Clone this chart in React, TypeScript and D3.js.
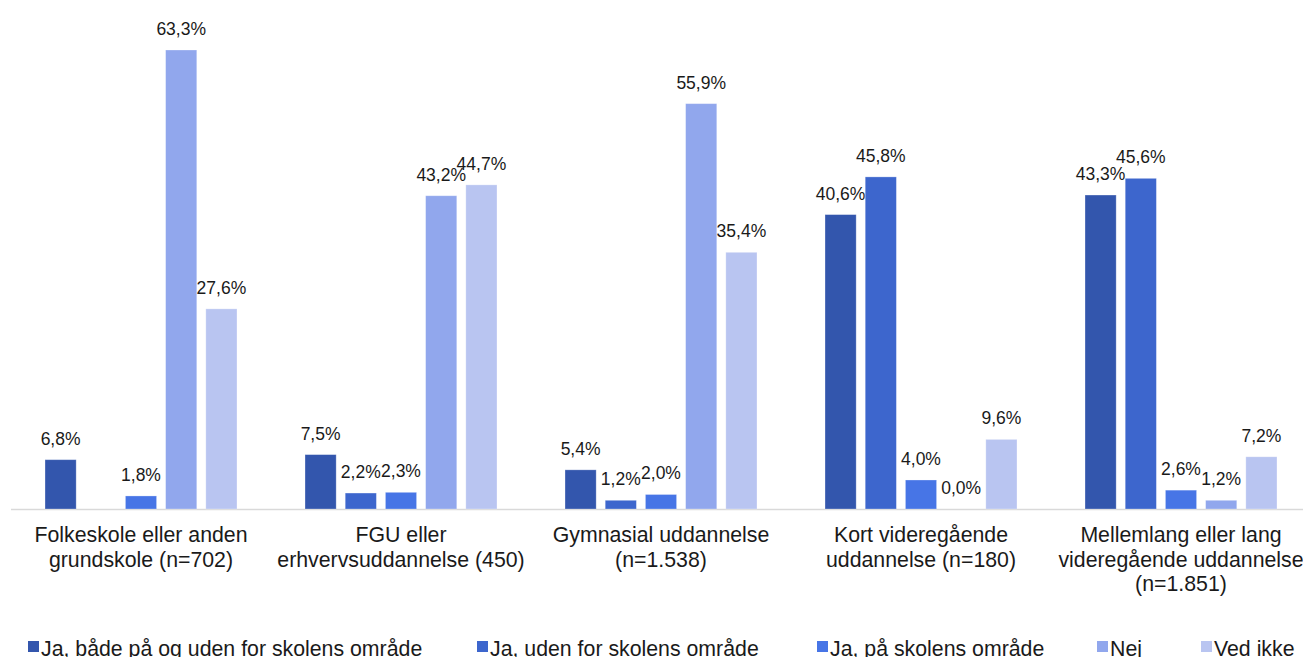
import React from "react";
import * as d3 from "d3";

const categories: string[][] = [
  ["Folkeskole eller anden", "grundskole (n=702)"],
  ["FGU eller", "erhvervsuddannelse (450)"],
  ["Gymnasial uddannelse", "(n=1.538)"],
  ["Kort videregående", "uddannelse (n=180)"],
  ["Mellemlang eller lang", "videregående uddannelse", "(n=1.851)"],
];

const seriesNames = [
  "Ja, både på og uden for skolens område",
  "Ja, uden for skolens område",
  "Ja, på skolens område",
  "Nej",
  "Ved ikke",
];

const seriesColors = ["#3356AD", "#3D66CD", "#4775E6", "#91A7ED", "#B9C5F1"];

// values per series, one per category (null = no bar)
const jaBegge: (number | null)[] = [6.8, 7.5, 5.4, 40.6, 43.3];
const jaUden: (number | null)[] = [null, 2.2, 1.2, 45.8, 45.6];
const jaPaa: (number | null)[] = [1.8, 2.3, 2.0, 4.0, 2.6];
const nej: (number | null)[] = [63.3, 43.2, 55.9, 0.0, 1.2];
const vedIkke: (number | null)[] = [27.6, 44.7, 35.4, 9.6, 7.2];

const seriesValues = [jaBegge, jaUden, jaPaa, nej, vedIkke];

const W = 1303;
const H = 657;
const FONT = "Liberation Sans, Arial, sans-serif";
const FS_LABEL = 17.5;
const FS_TEXT = 21.3;

export default function App() {
  const x0 = 11;
  const x1 = 1311;
  const baseline = 509;
  const yTop = 50;
  const x = d3
    .scaleBand<number>()
    .domain(d3.range(categories.length))
    .range([x0, x1])
    .paddingInner(0)
    .paddingOuter(0);
  const xs = d3
    .scaleBand<number>()
    .domain(d3.range(seriesNames.length))
    .range([0, 200])
    .paddingInner(0.225)
    .paddingOuter(0.1);
  const inner = xs.bandwidth();
  const groupOffset = (x.bandwidth() - 200) / 2;
  const y = d3.scaleLinear().domain([0, 63.3]).range([baseline, yTop]);
  const fmt = (v: number) => v.toFixed(1).replace(".", ",") + "%";

  const legendX = [28, 477, 817, 1097, 1201];

  return (
    <svg
      width={W}
      height={H}
      style={{ position: "absolute", left: 0, top: 0, background: "#fff" }}
      fontFamily={FONT}
    >
      <line x1={x0} x2={x1} y1={baseline + 0.5} y2={baseline + 0.5} stroke="#d9d9d9" strokeWidth={1.5} />
      {seriesValues.map((vals, si) =>
        vals.map((v, ci) => {
          if (v === null) return null;
          const bx = (x(ci) as number) + groupOffset + (xs(si) as number);
          const by = y(v);
          return (
            <g key={`${si}-${ci}`}>
              {v > 0 && (
                <rect
                  x={bx}
                  y={by}
                  width={inner}
                  height={baseline - by}
                  fill={seriesColors[si]}
                  stroke="#ffffff"
                  strokeOpacity={0.35}
                  strokeWidth={0.8}
                />
              )}
              <text
                x={bx + inner / 2}
                y={by - 15}
                textAnchor="middle"
                fontSize={FS_LABEL}
                fill="#1a1a1a"
              >
                {fmt(v)}
              </text>
            </g>
          );
        })
      )}
      {categories.map((lines, ci) => (
        <text
          key={ci}
          x={(x(ci) as number) + x.bandwidth() / 2}
          y={542}
          textAnchor="middle"
          fontSize={FS_TEXT}
          fill="#1a1a1a"
        >
          {lines.map((l, li) => (
            <tspan key={li} x={(x(ci) as number) + x.bandwidth() / 2} dy={li === 0 ? 0 : 24.5}>
              {l}
            </tspan>
          ))}
        </text>
      ))}
      {seriesNames.map((name, si) => (
        <g key={name} transform={`translate(${legendX[si]},0)`}>
          <rect x={0} y={641} width={11} height={11} fill={seriesColors[si]} />
          <text x={13} y={656} fontSize={FS_TEXT} fill="#1a1a1a">
            {name}
          </text>
        </g>
      ))}
    </svg>
  );
}
